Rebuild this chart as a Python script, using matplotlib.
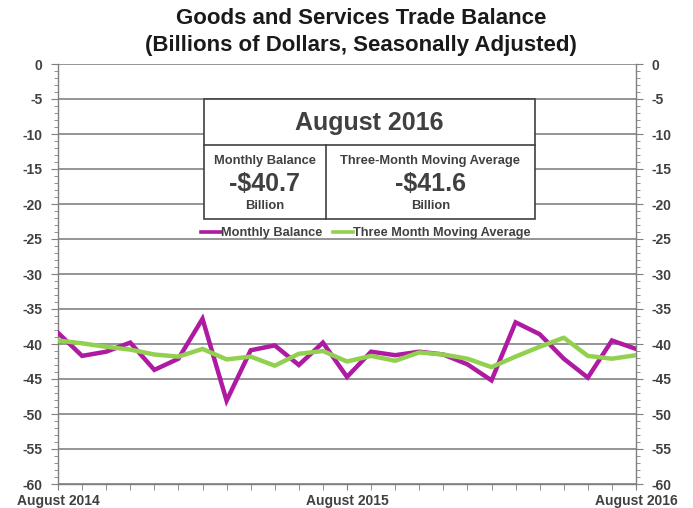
import matplotlib
matplotlib.use("Agg")
import matplotlib.pyplot as plt
from matplotlib.ticker import MultipleLocator, FixedLocator

plt.rcParams['font.family'] = ['Liberation Sans', 'DejaVu Sans']
plt.rcParams['axes.unicode_minus'] = False

months = list(range(25))
tick_labels = {0: "August 2014", 12: "August 2015", 24: "August 2016"}
monthly_balance = [-38.4, -41.7, -41.1, -39.8, -43.7, -42.1, -36.4, -48.1, -40.9, -40.2,
                   -43.0, -39.8, -44.7, -41.1, -41.6, -41.1, -41.5, -42.9, -45.2, -36.9,
                   -38.6, -42.1, -44.8, -39.5, -40.7]
moving_avg = [-39.5, -39.9, -40.4, -40.8, -41.5, -41.8, -40.7, -42.2, -41.8, -43.1,
              -41.4, -41.0, -42.5, -41.7, -42.4, -41.2, -41.5, -42.1, -43.3, -41.8,
              -40.4, -39.1, -41.7, -42.1, -41.6]

MAG = '#AE1AA2'
GRN = '#92D050'
TXT = '#404040'
GRID = '#8C8C8C'

W, H = 693, 508
fig = plt.figure(figsize=(W/100, H/100), dpi=100)
L, R, T, B = 58, 636, 64, 484
ax = fig.add_axes([L/W, 1-B/H, (R-L)/W, (B-T)/H])

ax.plot(months, monthly_balance, color=MAG, lw=3.2, solid_joinstyle='miter', zorder=3,
        label='Monthly Balance')
ax.plot(months, moving_avg, color=GRN, lw=3.2, zorder=3, label='Three Month Moving Average')

ax.set_xlim(0, 24)
ax.set_ylim(-60, 0)
ax.yaxis.set_major_locator(MultipleLocator(5))
ax.yaxis.set_minor_locator(MultipleLocator(1))
ax.xaxis.set_major_locator(FixedLocator(list(tick_labels.keys())))
ax.xaxis.set_minor_locator(FixedLocator(months))
ax.set_xticklabels(list(tick_labels.values()))
ax.grid(axis='y', which='major', color=GRID, lw=1.3, zorder=1)

for s in ax.spines.values():
    s.set_color('#7F7F7F')
    s.set_linewidth(1.0)
ax.spines['top'].set_visible(False)

ax.tick_params(axis='y', which='both', left=True, right=True, labelleft=True, labelright=True,
               direction='out', color='#7F7F7F', labelcolor=TXT)
ax.tick_params(axis='y', which='major', length=5, pad=6, labelsize=10)
ax.tick_params(axis='y', which='minor', length=3)
ax.tick_params(axis='x', which='both', direction='out', color='#7F7F7F', labelcolor=TXT)
ax.tick_params(axis='x', which='major', length=4, pad=3, labelsize=10)
ax.tick_params(axis='x', which='minor', length=4)
for t in ax.yaxis.get_major_ticks() + ax.xaxis.get_major_ticks():
    for lab in (t.label1, t.label2):
        lab.set_fontweight('bold')
        lab.set_color(TXT)

# Title
fig.text(361/W, 1-19/H, "Goods and Services Trade Balance", ha='center', va='center',
         fontsize=16, fontweight='bold', color='#1a1a1a')
fig.text(361/W, 1-45/H, "(Billions of Dollars, Seasonally Adjusted)", ha='center', va='center',
         fontsize=16, fontweight='bold', color='#1a1a1a')

# Summary box
bx0, bx1, by0, by1, bym, bxd = 204, 535, 99, 219, 145, 326
def fx(x): return x/W
def fy(y): return 1-y/H
rect = plt.Rectangle((fx(bx0), fy(by1)), fx(bx1)-fx(bx0), fy(by0)-fy(by1), transform=fig.transFigure,
                     facecolor='white', edgecolor='#404040', lw=1.2, zorder=5)
fig.add_artist(rect)
fig.add_artist(plt.Line2D([fx(bx0), fx(bx1)], [fy(bym), fy(bym)], transform=fig.transFigure,
                          color='#404040', lw=1.2, zorder=6))
fig.add_artist(plt.Line2D([fx(bxd), fx(bxd)], [fy(bym), fy(by1)], transform=fig.transFigure,
                          color='#404040', lw=1.2, zorder=6))
fig.text(fx((bx0+bx1)/2), fy(123), "August 2016", ha='center', va='center', fontsize=18,
         fontweight='bold', color=TXT, zorder=7)
c1 = (bx0+bxd)/2
c2 = (bxd+bx1)/2
fig.text(fx(c1), fy(161), "Monthly Balance", ha='center', va='center', fontsize=9.3, fontweight='bold', color=TXT, zorder=7)
fig.text(fx(c2), fy(161), "Three-Month Moving Average", ha='center', va='center', fontsize=9.3, fontweight='bold', color=TXT, zorder=7)
fig.text(fx(c1), fy(184), "-$40.7", ha='center', va='center', fontsize=18, fontweight='bold', color=TXT, zorder=7)
fig.text(fx(c2), fy(184), "-$41.6", ha='center', va='center', fontsize=18, fontweight='bold', color=TXT, zorder=7)
fig.text(fx(c1), fy(206), "Billion", ha='center', va='center', fontsize=9.4, fontweight='bold', color=TXT, zorder=7)
fig.text(fx(c2), fy(206), "Billion", ha='center', va='center', fontsize=9.4, fontweight='bold', color=TXT, zorder=7)

# Legend
leg = ax.legend(loc='center', bbox_to_anchor=(fx(366), fy(233)), bbox_transform=fig.transFigure,
                ncol=2, frameon=False, prop={'size': 9.2, 'weight': 'bold'}, handlelength=1.6,
                handletextpad=0.0, columnspacing=0.8, borderpad=0.1, borderaxespad=0)
leg.set_zorder(8)
for t in leg.get_texts():
    t.set_color(TXT)
for h in leg.get_lines():
    h.set_linewidth(2.6)

fig.savefig('out.png', dpi=100)
